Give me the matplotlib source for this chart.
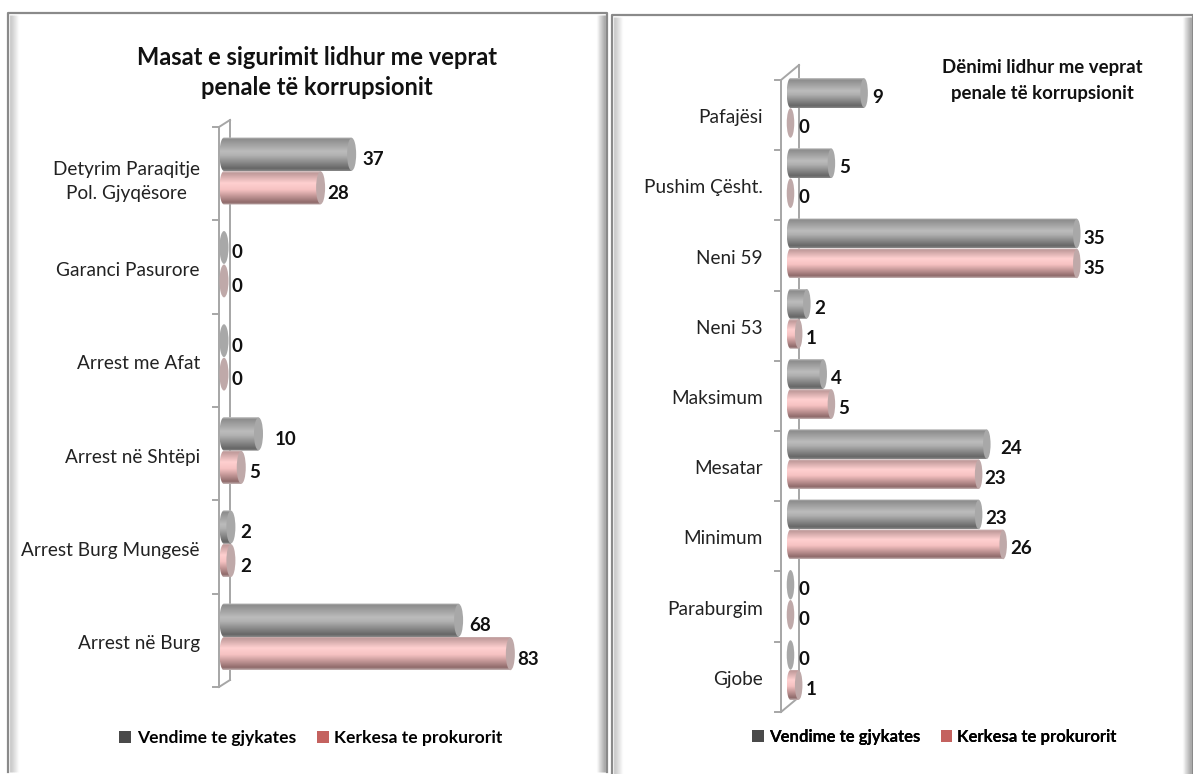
import numpy as np
import matplotlib
matplotlib.use("Agg")
import matplotlib.pyplot as plt
from matplotlib.patches import Ellipse, Patch, PathPatch
from matplotlib.path import Path
from matplotlib.colors import LinearSegmentedColormap
from matplotlib.transforms import ScaledTranslation

series_names = ["Vendime te gjykates", "Kerkesa te prokurorit"]

left_title = "Masat e sigurimit lidhur me veprat\npenale të korrupsionit"
left_categories = ["Detyrim Paraqitje\nPol. Gjyqësore", "Garanci Pasurore", "Arrest me Afat",
                   "Arrest në Shtëpi", "Arrest Burg Mungesë", "Arrest në Burg"]
left_court = [37, 0, 0, 10, 2, 68]
left_prosecutor = [28, 0, 0, 5, 2, 83]

right_title = "Dënimi lidhur me veprat\npenale të korrupsionit"
right_categories = ["Pafajësi", "Pushim Çësht.", "Neni 59", "Neni 53", "Maksimum",
                    "Mesatar", "Minimum", "Paraburgim", "Gjobe"]
right_court = [9, 5, 35, 2, 4, 24, 23, 0, 0]
right_prosecutor = [0, 0, 35, 1, 5, 23, 26, 0, 1]

W, H = 1193, 774
plt.rcParams['font.family'] = ['Lato', 'DejaVu Sans']
fig = plt.figure(figsize=(W / 100, H / 100), dpi=100, facecolor='white')

bg = fig.add_axes([0, 0, 1, 1], zorder=0)
bg.set_xlim(0, W); bg.set_ylim(H, 0); bg.axis('off')

grey_cmap = LinearSegmentedColormap.from_list('g', [(0, '#c8c8c8'), (.06, '#8c8c8c'), (.42, '#bcbcbc'),
                                                    (.55, '#b0b0b0'), (.93, '#666666'), (1, '#8a8a8a')])
pink_cmap = LinearSegmentedColormap.from_list('p', [(0, '#d8c8c8'), (.06, '#c09a9a'), (.35, '#ffd0d0'),
                                                    (.55, '#f6c2c2'), (.93, '#8e6a6a'), (1, '#c4b4b4')])
CAP = ['#a8a8a8', '#bfa9a9']
vert = np.linspace(0, 1, 128).reshape(-1, 1)


def panel(x0, y0, x1, y1):
    for k, a in enumerate(np.linspace(.28, .02, 9)):
        bg.plot([x0 + 2 + k] * 2, [y0 + 2, y1], color='k', alpha=a * .6, lw=1, solid_capstyle='butt')
        bg.plot([x1 - 2 - k] * 2, [y0 + 2, y1], color='k', alpha=a, lw=1, solid_capstyle='butt')
    bg.plot([x0, x0, x1, x1], [y1, y0, y0, y1], color='#8a8a8a', lw=1.6, clip_on=False)


def wall(fx, bx, top, bottom, step, n, dy):
    c = '#a6a6a6'
    bg.plot([fx, fx], [top, bottom], color=c, lw=1.4)
    bg.plot([bx, bx], [top - dy, bottom - dy], color=c, lw=1.4)
    bg.plot([fx, bx], [top, top - dy], color=c, lw=1.4)
    bg.plot([fx, bx], [bottom, bottom - dy], color=c, lw=1.4)
    for i in range(n + 1):
        bg.plot([fx - 6, fx], [top + i * step] * 2, color=c, lw=1.4)


def chart(categories, court, prosecutor, px0, scale, yc0, step, bar_px, cap_w,
          offs, dy_val, dy_cat, pad, fs_val, fs_cat):
    n = len(categories)
    xmax = 100
    ax = fig.add_axes([px0 / W, 1 - (yc0 + (n - .5) * step) / H, xmax * scale / W, n * step / H], zorder=2)
    ax.patch.set_alpha(0)
    for s in ax.spines.values():
        s.set_visible(False)
    ax.xaxis.set_visible(False)
    ax.set_yticks(range(n), categories, fontsize=fs_cat, color='#222222', multialignment='center',
                  linespacing=1.55)
    ax.tick_params(axis='y', length=0, pad=pad)
    shift = ScaledTranslation(0, -dy_cat / 100, fig.dpi_scale_trans)
    for lab in ax.get_yticklabels():
        lab.set_transform(lab.get_transform() + shift)

    h = bar_px / step
    capd = cap_w / scale
    for s, (vals, cmap) in enumerate(((court, grey_cmap), (prosecutor, pink_cmap))):
        ypos = np.arange(n) + (s - .5) * h
        ax.barh(ypos, vals, height=h, color='none', edgecolor='none')
        for i, (v, y) in enumerate(zip(vals, ypos)):
            t = np.linspace(np.pi / 2, 3 * np.pi / 2, 30)
            xs = np.r_[capd / 2 * np.cos(t), v, v, capd / 2 * np.cos(t[0])]
            ys = np.r_[y + h / 2 * np.sin(t), y - h / 2, y + h / 2, y + h / 2 * np.sin(t[0])]
            if v > 0:
                im = ax.imshow(vert, cmap=cmap, extent=(-capd / 2, v, y + h / 2, y - h / 2),
                               aspect='auto', zorder=3, interpolation='bilinear')
                clip = PathPatch(Path(np.c_[xs, ys], closed=True), transform=ax.transData)
                im.set_clip_box(fig.bbox)
                im.set_clip_path(clip)
            ax.add_patch(Ellipse((v, y), capd, h * .98, facecolor=CAP[s], edgecolor='none',
                                 zorder=4, clip_on=False))
            ax.annotate(str(v), xy=(v, y), xytext=(offs[s][i], -dy_val), textcoords='offset pixels',
                        fontsize=fs_val, fontweight='bold', color='#111111', va='center', ha='left',
                        annotation_clip=False, zorder=5)
    ax.set_xlim(0, xmax); ax.set_ylim(n - .5, -.5)
    return ax


panel(8, 13, 607, 772)
panel(612, 15, 1193, 776)
wall(219, 230, 127, 687, 93.33, 6, 7)
wall(781, 799, 80, 712, 70.2, 9, 15)

left_offs = [[11, 8, 8, 16, 9, 11], [7, 8, 8, 8, 9, 7]]
right_offs = [[8, 8, 7, 7, 8, 13, 7, 8, 8], [8, 8, 7, 7, 7, 6, 7, 8, 7]]

chart(left_categories, left_court, left_prosecutor, 224, 3.45, 171, 93.2, 33.5, 9,
      left_offs, 5.5, 5, 17.3, 13.5, 13.7)
chart(right_categories, right_court, right_prosecutor, 790.5, 8.18, 108, 70.25, 30, 7.5,
      right_offs, 4.5, 8, 19.8, 13.5, 13.7)

bg.text(317, 72.5, left_title, ha='center', va='center', fontsize=17, fontweight='bold',
        color='#111111', linespacing=1.4)
bg.text(1042, 80.5, right_title, ha='center', va='center', fontsize=13.4, fontweight='bold',
        color='#111111', linespacing=1.65)

handles = [Patch(facecolor='#4a4a4a'), Patch(facecolor='#c4625f')]
for (cx, cy, fs) in ((311, 738, 12.6), (934.5, 737, 12.1)):
    bg.legend(handles, series_names, loc='center', bbox_to_anchor=(cx / W, 1 - cy / H),
              bbox_transform=fig.transFigure, ncol=2, frameon=False, handlelength=.7, handleheight=.7,
              handletextpad=.3, columnspacing=1.2,
              prop={'weight': 'bold', 'size': fs})
    bg.add_artist(bg.get_legend())

fig.savefig('out.png', dpi=100)
